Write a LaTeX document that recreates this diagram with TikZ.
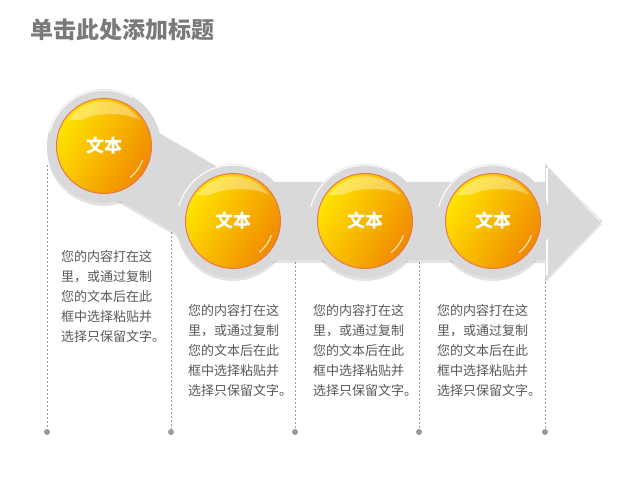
\documentclass[tikz,border=0pt]{standalone}
\usepackage{fontspec}
\setmainfont{Noto Sans CJK SC}
\usetikzlibrary{calc}
\definecolor{bandgray}{HTML}{D9D9D9}
\definecolor{balllight}{HTML}{FFE400}
\definecolor{balldark}{HTML}{F08A00}
\definecolor{ballrim}{HTML}{E87850}
\definecolor{titlegray}{HTML}{7A7A7A}
\definecolor{bodygray}{HTML}{595959}
\definecolor{dashgray}{HTML}{9A9A9A}
\tikzset{
  ring/.style={circle, minimum size=114pt, inner sep=0pt, fill=bandgray},
  ball/.style={circle, minimum size=95pt, inner sep=0pt, draw=ballrim, line width=1pt,
    left color=balllight, right color=balldark, shading angle=60},
  balllabel/.style={text=white, font=\fontsize{18}{18}\selectfont\bfseries},
  body/.style={anchor=north west, inner sep=0pt, align=left, text=bodygray,
    font=\fontsize{13}{20}\selectfont},
  guide/.style={draw=dashgray, dashed, dash pattern=on 2pt off 2pt, line width=0.8pt},
  guidedot/.style={circle, fill=dashgray, inner sep=0pt, minimum size=6pt},
}
\begin{document}
\begin{tikzpicture}[x=1pt,y=-1pt]
\useasboundingbox (0,0) rectangle (635,484);
\fill[white] (0,0) rectangle (635,484);

% title
\node[anchor=west, inner sep=0pt, text=titlegray, font=\fontsize{23}{23}\selectfont\bfseries] (title) at (30,30) {单击此处添加标题};

% centres
\coordinate (c1) at (104,146);
\coordinate (c2) at (233,221);
\coordinate (c3) at (365,221);
\coordinate (c4) at (493,221);
\coordinate (hb) at (545,221);

% dashed guides
\coordinate (g1t) at (47,165);  \coordinate (g1b) at (47,432);
\coordinate (g2t) at (171,232); \coordinate (g2b) at (171,432);
\coordinate (g3t) at (295,262); \coordinate (g3b) at (295,432);
\coordinate (g4t) at (419,262); \coordinate (g4b) at (419,432);
\coordinate (g5t) at (545,278); \coordinate (g5b) at (545,432);
\foreach \i in {1,...,5}{
  \draw[guide] (g\i t) -- (g\i b);
  \node[guidedot] (d\i) at (g\i b) {};
}

% shadow of the band
\begin{scope}[opacity=0.18, transform canvas={shift={(0pt,-3pt)}}]
  \draw[line width=78pt, black!60] (c1) -- (c2) -- (hb);
  \foreach \c in {c1,c2,c3,c4} \fill[black!60] (\c) circle (57);
  \fill[black!60] (545,163) -- (602,221) -- (545,280) -- cycle;
\end{scope}

% gray band
\draw[line width=78pt, bandgray] (c1) -- (c2) -- (hb);
\fill[bandgray] (545,163) -- (602,221) -- (545,280) -- cycle;
\draw[white, line width=1.2pt] (547,168) -- (547,275);
\draw[white, line width=1pt, opacity=0.8] (547,165) -- (600,221);
\foreach \c [count=\k] in {c1,c2,c3,c4}{
  \node[ring] (r\k) at (\c) {};
  \draw[white, line width=1.2pt, opacity=0.9] ($(\c)+(195:56)$) arc[start angle=195, end angle=300, radius=56];
}

% balls
\foreach \c [count=\k] in {c1,c2,c3,c4}{
  \node[ball] (b\k) at (\c) {};
  \fill[white, opacity=0.35] ($(\c)+(-36,-26)$) arc[start angle=-145, end angle=-35, radius=44]
     arc[start angle=-35, end angle=-145, x radius=36, y radius=14];
  \draw[white, opacity=0.7, line width=1.2pt] ($(\c)+(20:41)$) arc[start angle=20, end angle=50, radius=41];
  \node[balllabel] (l\k) at (\c) {文本};
}

% body texts
\node[body] (t1) at (61,250) {您的内容打在这\\里，或通过复制\\您的文本后在此\\框中选择粘贴并\\选择只保留文字。};
\node[body] (t2) at (188,304) {您的内容打在这\\里，或通过复制\\您的文本后在此\\框中选择粘贴并\\选择只保留文字。};
\node[body] (t3) at (313,304) {您的内容打在这\\里，或通过复制\\您的文本后在此\\框中选择粘贴并\\选择只保留文字。};
\node[body] (t4) at (437,304) {您的内容打在这\\里，或通过复制\\您的文本后在此\\框中选择粘贴并\\选择只保留文字。};
\end{tikzpicture}
\end{document}
